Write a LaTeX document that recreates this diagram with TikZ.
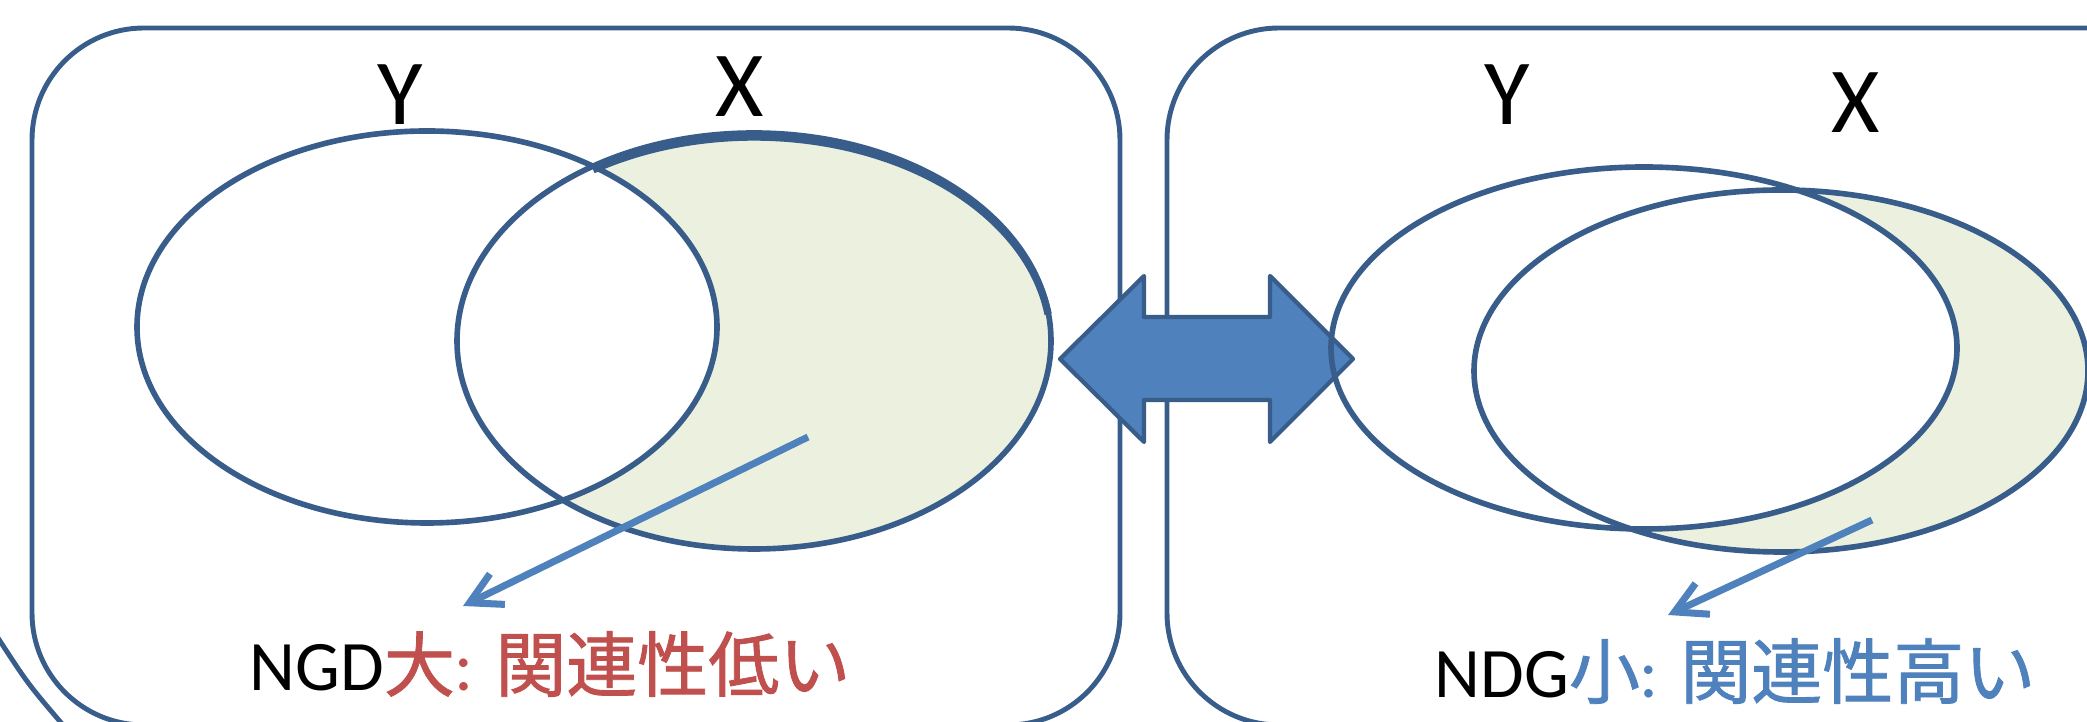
\documentclass[tikz,border=0pt]{standalone}
\usepackage{fontspec}
\setmainfont{Carlito}
\newfontfamily\jpfont[FakeBold=1.2]{Noto Sans CJK JP}
\usetikzlibrary{arrows.meta}
\definecolor{shapeline}{HTML}{385D8A}
\definecolor{accentblue}{HTML}{4F81BD}
\definecolor{accentred}{HTML}{C0504D}
\definecolor{lightolive}{HTML}{EBF1DE}
\tikzset{
  setline/.style={line width=1.6pt, color=shapeline},
  boxline/.style={line width=1.4pt, color=shapeline, rounded corners=11.2mm},
  pointer/.style={-{Straight Barb[length=3.1mm, width=3.4mm]}, line width=2pt, color=accentblue},
  setlabel/.style={inner sep=0pt, anchor=base, font=\fontsize{26.5}{30}\selectfont},
  caption/.style={inner sep=0pt, anchor=base west, font=\fontsize{20.2}{24}\selectfont},
}
\begin{document}
\begin{tikzpicture}[x=0.1mm, y=-0.1mm]
    \useasboundingbox (0,0) rectangle (2087,722);
    \clip (0,0) rectangle (2087,722);

    % frames
    \draw [boxline] (32,28) rectangle (1120,725);
    \draw [boxline] (1167,28) rectangle (2300,725);
    \draw [setline, line width=1.4pt] (-2,638) .. controls (28,684) .. (63,725);

    % shaded part of X
    \begin{scope}
      \clip (754,341) ellipse [x radius=297, y radius=208];
      \fill [lightolive] (754,341) ellipse [x radius=297, y radius=208];
      \fill [white] (427,327) ellipse [x radius=290, y radius=196];
    \end{scope}
    \begin{scope}
      \clip (1781,371) ellipse [x radius=307, y radius=181];
      \fill [lightolive] (1781,371) ellipse [x radius=307, y radius=181];
      \fill [white] (1644,348) ellipse [x radius=313, y radius=181];
    \end{scope}

    % double arrow
    \draw [fill=accentblue, draw=shapeline, line width=1.2pt, line join=round]
    (1060,359) -- (1144,276) -- (1144,317) -- (1270,317) -- (1270,276)
    -- (1353,359) -- (1270,442) -- (1270,400) -- (1144,400) -- (1144,442) -- cycle;

    % sets
    \draw [setline] (427,327) ellipse [x radius=290, y radius=196];
    \draw [setline] (754,341) ellipse [x radius=297, y radius=208];
    \draw [setline, line width=2.1pt] (754,343) ++(-122.8:297 and 206)
    arc [start angle=-122.8, end angle=-8, x radius=297, y radius=206];
    \draw [setline] (1644,348) ellipse [x radius=313, y radius=181];
    \draw [setline] (1781,371) ellipse [x radius=307, y radius=181];

    \node [setlabel] (yLow) at (400,125) {Y};
    \node [setlabel] (xLow) at (740,117) {X};
    \node [setlabel] (yHigh) at (1507,125) {Y};
    \node [setlabel] (xHigh) at (1856,133) {X};

    % pointers
    \coordinate (lowFrom) at (808,437);
    \coordinate (lowTo) at (463,606);
    \coordinate (highFrom) at (1872,520);
    \coordinate (highTo) at (1668,615);
    \draw [pointer] (lowFrom) -- (lowTo);
    \draw [pointer] (highFrom) -- (highTo);

    \node [caption] (capLow) at (249,691)
    {NGD\textcolor{accentred}{{\jpfont 大}: {\jpfont 関連性低い}}};
    \node [caption] (capHigh) at (1434,698)
    {NDG\textcolor{accentblue}{{\jpfont 小}: {\jpfont 関連性高い}}};
  \end{tikzpicture}
\end{document}
